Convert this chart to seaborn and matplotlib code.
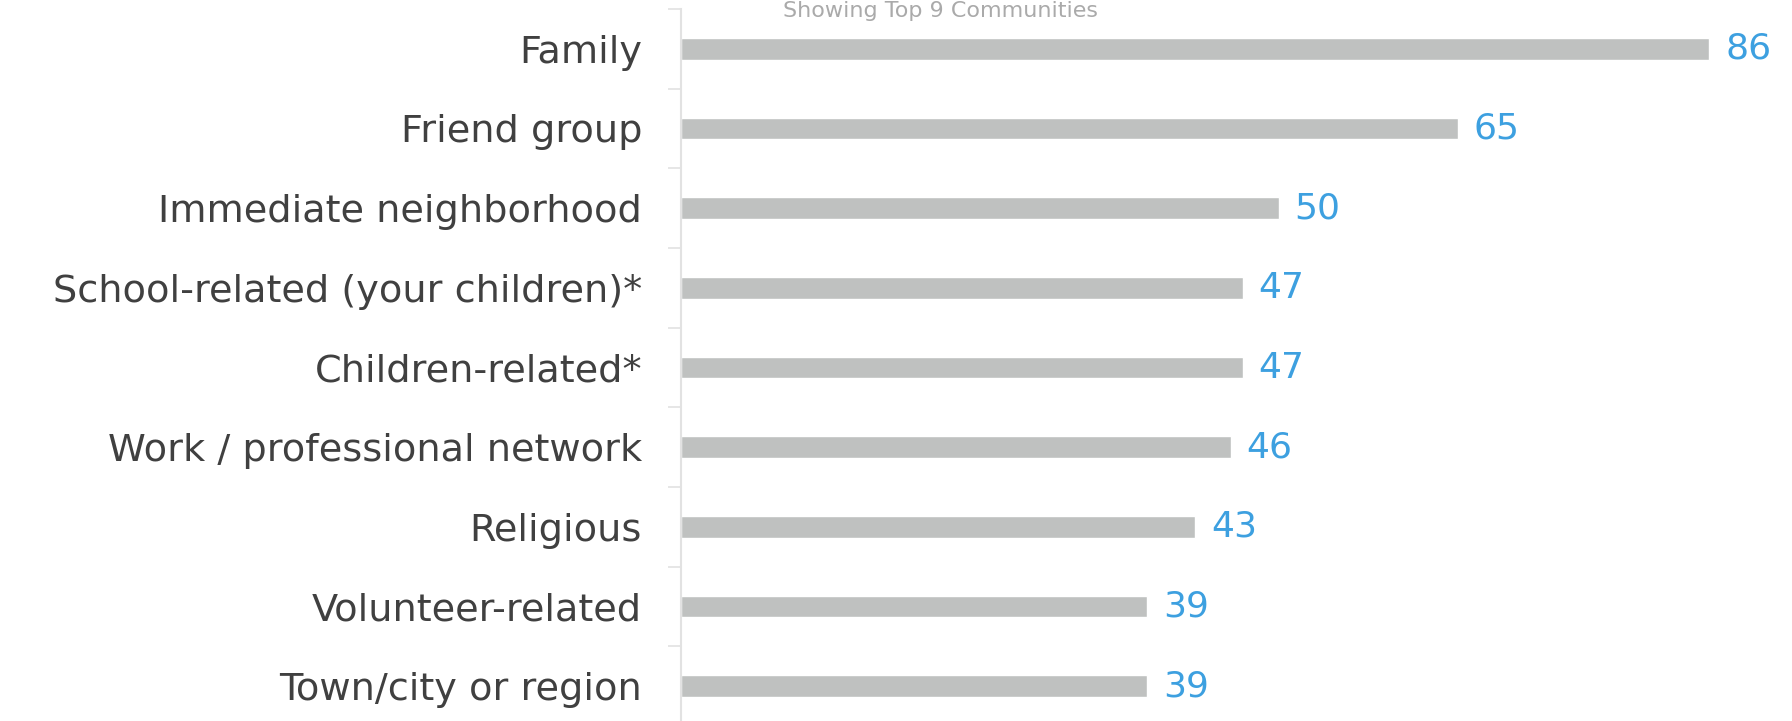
import matplotlib
matplotlib.use("Agg")
import matplotlib.pyplot as plt
import seaborn as sns
import pandas as pd
import numpy as np

categories = ["Family", "Friend group", "Immediate neighborhood",
              "School-related (your children)*", "Children-related*",
              "Work / professional network", "Religious",
              "Volunteer-related", "Town/city or region"]
values = [86, 65, 50, 47, 47, 46, 43, 39, 39]
title_text = "Showing Top 9 Communities"

sns.set_theme(style="white")
plt.rcParams['font.family'] = ['DejaVu Sans']

W, H = 1792, 721
fig = plt.figure(figsize=(W / 100, H / 100), dpi=100)
left = 681 / W
top = 1 - 9 / H
bottom = -5 / H
ax = fig.add_axes([left, bottom, 1 - left, top - bottom])

df = pd.DataFrame({"cat": categories, "val": values})
sns.barplot(data=df, y="cat", x="val", orient="h", color="#BFC1C0",
            saturation=1, width=0.27, ax=ax)

ax.set_xlim(0, 92.9)
ax.set_ylim(len(categories) - 0.5, -0.5)
ax.set_xlabel("")
ax.set_ylabel("")
ax.set_xticks([])

for s in ["top", "right", "bottom"]:
    ax.spines[s].set_visible(False)
ax.spines["left"].set_color("#E2E2E2")
ax.spines["left"].set_linewidth(1.5)

ax.tick_params(axis="y", which="major", length=0, pad=28,
               labelsize=27.5, labelcolor="#404040")
ax.set_yticks(np.arange(len(categories) + 1) - 0.5, minor=True)
ax.tick_params(axis="y", which="minor", length=9.5, width=1.2,
               color="#E2E2E2", left=True)

for i, v in enumerate(values):
    ax.text(v + 1.3, i, str(v), va="center", ha="left",
            fontsize=26, color="#3DA0E0")

fig.text(940 / W, 1 - 1 / H, title_text, ha="center", va="top",
         fontsize=16, color="#AAAAAA")

fig.savefig("out.png", dpi=100)
